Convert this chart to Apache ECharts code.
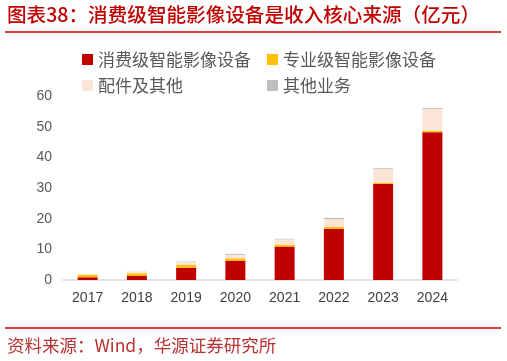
<!DOCTYPE html>
<html><head><meta charset="utf-8">
<script src="https://cdn.jsdelivr.net/npm/echarts@6/dist/echarts.min.js"></script>
<style>html,body{margin:0;padding:0;background:#fff}#c{width:507px;height:361px}</style>
</head><body><div id="c"></div>
<script>
const categories = ['2017','2018','2019','2020','2021','2022','2023','2024'];
const consumer = [0.9, 1.3, 4.0, 6.3, 10.9, 16.7, 31.3, 48.2];
const professional = [0.8, 0.9, 0.9, 0.8, 0.65, 0.65, 0.35, 0.4];
const accessories = [0.25, 0.4, 1.0, 1.1, 1.7, 2.5, 4.5, 7.2];
const others = [0.05, 0.1, 0.15, 0.3, 0.2, 0.4, 0.3, 0.3];
const seriesNames = ['消费级智能影像设备','专业级智能影像设备','配件及其他','其他业务'];
const colors = ['#c00000','#ffc000','#fbe5d6','#bfbfbf'];
const yTicks = {min:0, max:60, interval:10};

const chart = echarts.init(document.getElementById('c'));
const cjk = '"Noto Sans CJK SC", sans-serif';
const legendText = {color:'#595959', fontSize:17, fontFamily:cjk, lineHeight:16};
const vals = [consumer, professional, accessories, others];
chart.setOption({
  animation:false,
  color: colors,
  graphic:[
    {type:'text', left:7, top:5, style:{text:'图表38：消费级智能影像设备是收入核心来源（亿元）', fill:'#c00000', font:'500 19.6px "Noto Sans CJK SC"'}},
    {type:'line', shape:{x1:5,y1:32,x2:501,y2:32}, style:{stroke:'#c00000', lineWidth:1.5}},
    {type:'line', shape:{x1:5,y1:328,x2:501,y2:328}, style:{stroke:'#c00000', lineWidth:1.5}},
    {type:'text', left:7, top:337, style:{text:'资料来源：Wind，华源证券研究所', fill:'#b83232', font:'17.5px "Noto Sans CJK SC"'}}
  ],
  legend:[
    {data:[seriesNames[0], seriesNames[2]], orient:'vertical', left:77, top:46, itemWidth:11, itemHeight:11, itemGap:9, icon:'rect', textStyle:legendText, selectedMode:false},
    {data:[seriesNames[1], seriesNames[3]], orient:'vertical', left:262, top:46, itemWidth:11, itemHeight:11, itemGap:9, icon:'rect', textStyle:legendText, selectedMode:false}
  ],
  grid:{left:63, right:50, top:96, bottom:81},
  xAxis:{type:'category', data:categories,
    axisLine:{lineStyle:{color:'#d9d9d9', width:1.5}}, axisTick:{show:false},
    axisLabel:{color:'#404040', fontSize:14, fontFamily:'"Liberation Sans", Arial', margin:11}},
  yAxis:{type:'value', min:yTicks.min, max:yTicks.max, interval:yTicks.interval,
    splitLine:{show:false}, axisLine:{show:false}, axisTick:{show:false},
    axisLabel:{color:'#595959', fontSize:14, fontFamily:'"Liberation Sans", Arial', margin:11}},
  series: seriesNames.map((n,i)=>({name:n, type:'bar', stack:'a', data:vals[i], barWidth:20, itemStyle:{color:colors[i]}}))
});
</script></body></html>
